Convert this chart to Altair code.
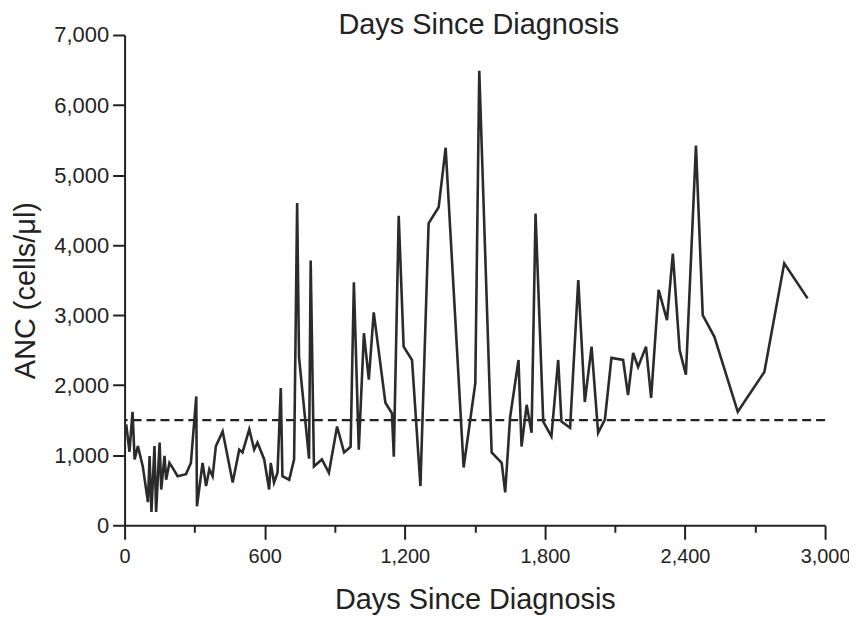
import altair as alt
import pandas as pd

days = [7, 21, 34, 43, 57, 78, 100, 107, 115, 128, 135, 150, 157, 171, 178, 192, 206, 227, 263, 284,
        307, 310, 334, 349, 363, 377, 391, 420, 463, 491, 505, 534, 555, 569, 598, 619, 626, 640, 655, 669,
        676, 705, 726, 739, 747, 790, 797, 811, 845, 875, 910, 940, 968, 982, 1003, 1025, 1046, 1067, 1117, 1145,
        1153, 1174, 1195, 1231, 1267, 1302, 1345, 1375, 1452, 1502, 1519, 1572, 1615, 1630, 1651, 1687, 1700, 1722, 1743, 1760,
        1793, 1828, 1857, 1871, 1908, 1943, 1971, 2000, 2028, 2057, 2085, 2135, 2156, 2178, 2199, 2233, 2255, 2287, 2323, 2348,
        2377, 2404, 2447, 2476, 2526, 2626, 2740, 2825, 2925]
anc = [1440, 1050, 1620, 940, 1130, 840, 330, 990, 190, 1130, 190, 1180, 510, 990, 650, 890, 820, 700, 730, 890,
       1840, 270, 890, 560, 800, 700, 1130, 1340, 610, 1080, 1040, 1370, 1080, 1180, 940, 510, 890, 610, 750, 1960,
       700, 650, 940, 4600, 2400, 950, 3780, 840, 940, 750, 1410, 1040, 1120, 3470, 1080, 2745, 2080, 3040, 1750, 1600,
       980, 4420, 2550, 2360, 560, 4310, 4540, 5390, 825, 2030, 6490, 1040, 890, 470, 1540, 2360, 1125, 1720, 1320, 4450,
       1480, 1270, 2360, 1480, 1390, 3500, 1760, 2550, 1320, 1510, 2390, 2360, 1860, 2460, 2260, 2550, 1820, 3360, 2930, 3880,
       2500, 2150, 5420, 3000, 2690, 1620, 2190, 3740, 3240]
threshold = [1500]

x_ticks = list(range(0, 3001, 300))
y_ticks = list(range(0, 7001, 500))

FONT = "Liberation Sans"
INK = "#222222"

df = pd.DataFrame({"day": days, "anc": anc})
thr = pd.DataFrame({"anc": threshold})

x_axis = alt.Axis(
    values=x_ticks,
    labelExpr="datum.value % 600 === 0 ? format(datum.value, ',') : ''",
    tickSize={"condition": {"test": "datum.value % 600 === 0", "value": 14}, "value": 7},
    tickWidth=2, tickColor=INK, domainWidth=2, domainColor=INK,
    labelFont=FONT, labelFontSize=20, labelColor=INK, labelPadding=7,
    title="Days Since Diagnosis", titleFont=FONT, titleFontSize=29,
    titleFontWeight="normal", titleColor=INK, titlePadding=20, grid=False,
    labelFlush=False, labelOverlap=False,
)
y_axis = alt.Axis(
    values=y_ticks,
    labelExpr="datum.value % 1000 === 0 ? format(datum.value, ',') : ''",
    tickSize={"condition": {"test": "datum.value % 1000 === 0", "value": 12}, "value": 6},
    tickWidth=2, tickColor=INK, domainWidth=2, domainColor=INK,
    labelFont=FONT, labelFontSize=22, labelColor=INK, labelPadding=4,
    title="ANC (cells/μl)", titleFont=FONT, titleFontSize=29,
    titleFontWeight="normal", titleColor=INK, titleX=-99, titleY=256,
    titleAngle=270, titleAlign="center", titleBaseline="middle", grid=False,
    labelOverlap=False,
)

x_enc = alt.X("day:Q", scale=alt.Scale(domain=[0, 3000], nice=False), axis=x_axis)
y_enc = alt.Y("anc:Q", scale=alt.Scale(domain=[0, 7000], nice=False), axis=y_axis)

line = alt.Chart(df).mark_line(color="#2b2b2b", strokeWidth=2.6, clip=False).encode(
    x=x_enc, y=y_enc
)
rule = alt.Chart(thr).mark_rule(color=INK, strokeWidth=2.2, strokeDash=[9, 5]).encode(
    y=alt.Y("anc:Q")
)

chart = alt.layer(rule, line).properties(
    width=703, height=492,
    title=alt.TitleParams("Days Since Diagnosis", font=FONT, fontSize=29,
                          fontWeight="normal", color=INK, anchor="middle",
                          frame="group", offset=0, dy=16, dx=4),
    autosize=alt.AutoSizeParams(type="none"),
    padding={"left": 117, "top": 26, "right": 24, "bottom": 103},
    background="white",
).configure_view(stroke=None)

chart.save("out.html", embed_options={"renderer": "svg", "actions": False})
